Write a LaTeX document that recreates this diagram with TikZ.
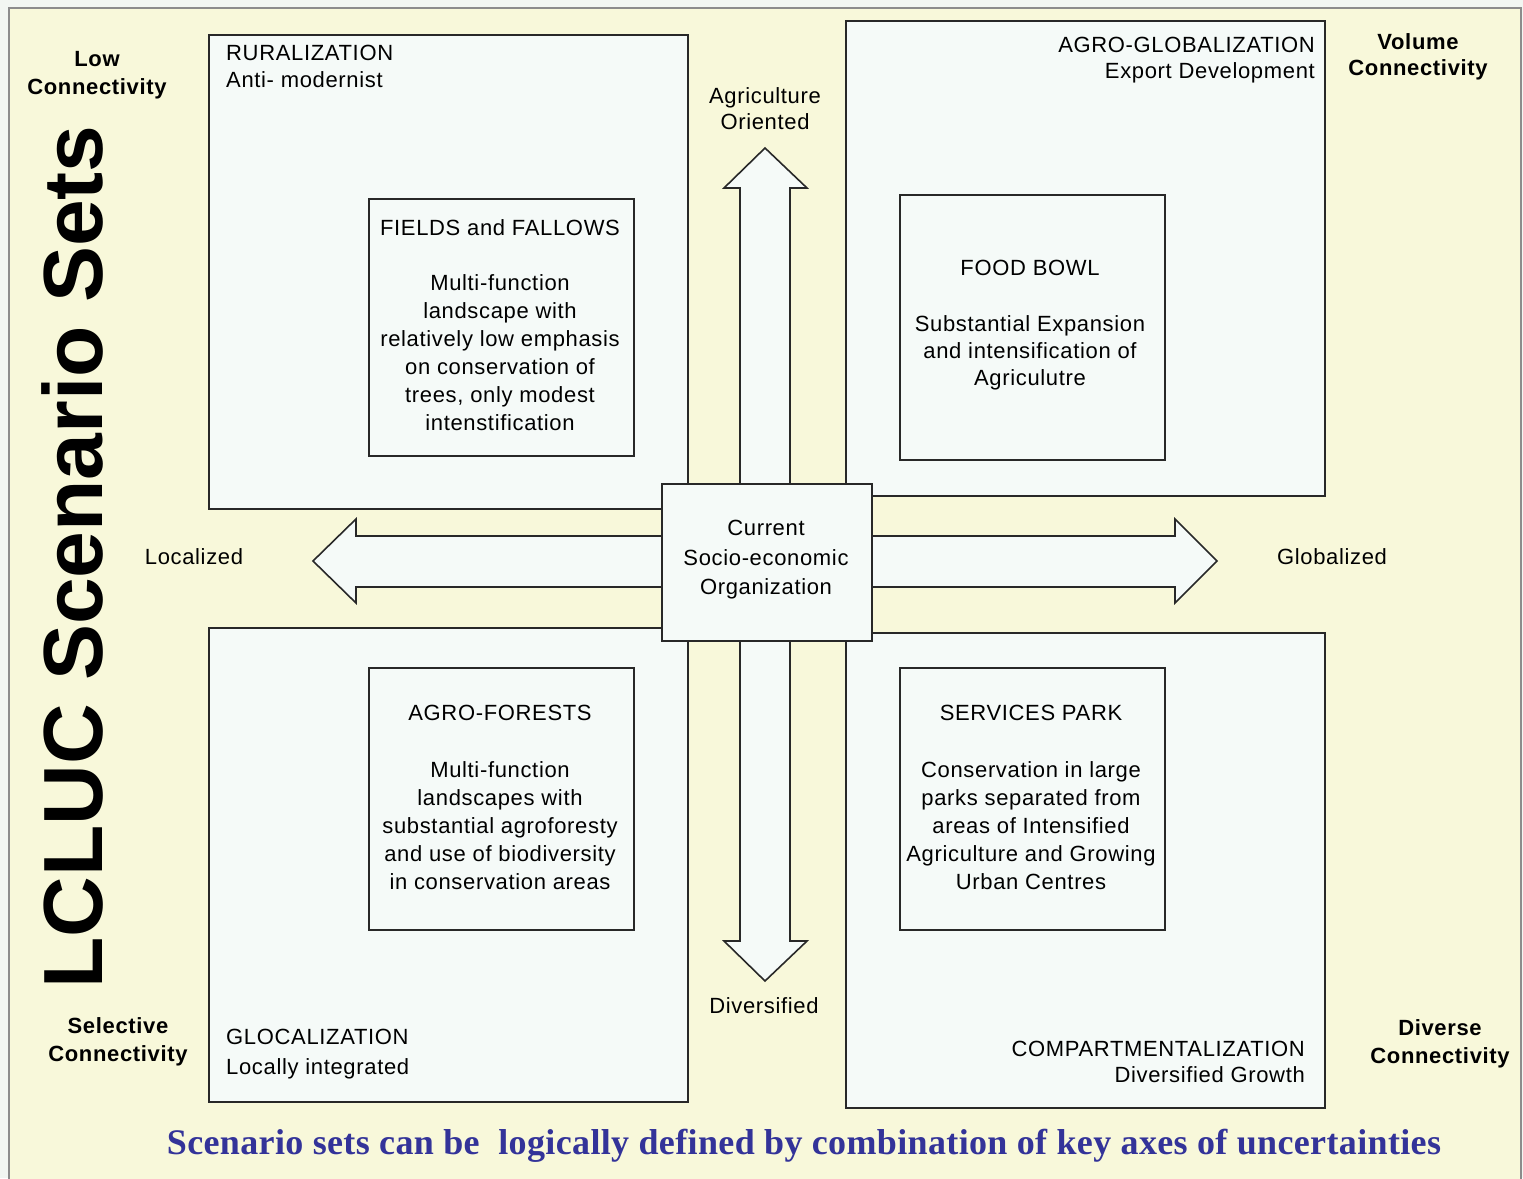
\documentclass[tikz,border=0pt]{standalone}
\usepackage{fontspec}
\setmainfont{Liberation Sans}[LetterSpace=3]
\newfontfamily\capserif{Liberation Serif}[LetterSpace=1]
\newfontfamily\titlefont{Liberation Sans}
\definecolor{outerbg}{RGB}{242,246,242}
\definecolor{bgyellow}{RGB}{248,248,218}
\definecolor{boxfill}{RGB}{245,250,248}
\definecolor{boxline}{RGB}{40,40,40}
\definecolor{framegray}{RGB}{140,140,140}
\definecolor{capblue}{RGB}{51,51,153}
\begin{document}
\begin{tikzpicture}[x=1pt,y=-1pt,
  bigbox/.style={draw=boxline, fill=boxfill, line width=2pt, anchor=north west, inner sep=0pt},
  blockarrow/.style={draw=boxline, fill=boxfill, line width=1.6pt, line join=miter},
  txt/.style={font=\fontsize{22}{28}\selectfont, inner sep=0pt, align=center, text=black},
  txtl/.style={font=\fontsize{22}{27}\selectfont, inner sep=0pt, align=left, text=black},
  txtr/.style={font=\fontsize{22}{26}\selectfont, inner sep=0pt, align=right, text=black},
  boldlbl/.style={font=\bfseries\fontsize{22}{28}\selectfont, inner sep=0pt, align=center, text=black}
]
\useasboundingbox (0,0) rectangle (1523,1178);
\fill[outerbg] (0,0) rectangle (1523,1178);
\path[fill=bgyellow, draw=framegray, line width=2pt] (9,8) rectangle (1521,1195);

% quadrant boxes
\node[bigbox, minimum width=479pt, minimum height=474pt] (rur) at (208,34) {};
\node[bigbox, minimum width=479pt, minimum height=475pt] (agro) at (845,20) {};
\node[bigbox, minimum width=479pt, minimum height=474pt] (gloc) at (208,627) {};
\node[bigbox, minimum width=479pt, minimum height=475pt] (comp) at (845,632) {};

% inner boxes
\node[bigbox, minimum width=265pt, minimum height=257pt] (fields) at (368,198) {};
\node[bigbox, minimum width=265pt, minimum height=265pt] (food) at (899,194) {};
\node[bigbox, minimum width=265pt, minimum height=262pt] (forest) at (368,667) {};
\node[bigbox, minimum width=265pt, minimum height=262pt] (serv) at (899,667) {};

% block arrows
\draw[blockarrow] (765,148) -- (807,188) -- (790,188) -- (790,941) -- (807,941) -- (765,981)
  -- (724,941) -- (740,941) -- (740,188) -- (724,188) -- cycle;
\draw[blockarrow] (313,561) -- (356,519) -- (356,536) -- (1175,536) -- (1175,519) -- (1217,561)
  -- (1175,603) -- (1175,587) -- (356,587) -- (356,603) -- cycle;

% centre box
\node[bigbox, minimum width=210pt, minimum height=157pt] (cur) at (661,483) {};
\node[txt, font=\fontsize{22}{29.5}\selectfont] (curtxt) at (766,560) {Current\\Socio-economic\\Organization};

% quadrant headings
\node[txtl, anchor=north west] (rurt) at (226,45) {RURALIZATION\\Anti- modernist};
\node[txtr, anchor=north east] (agrot) at (1315,37) {AGRO-GLOBALIZATION\\Export Development};
\node[txtl, anchor=north west, font=\fontsize{22}{30}\selectfont] (glot) at (226,1029) {GLOCALIZATION\\Locally integrated};
\node[txtr, anchor=north east] (compt) at (1305,1041) {COMPARTMENTALIZATION\\Diversified Growth};

% inner texts
\node[txt] (fieldst) at (500,325) {FIELDS and FALLOWS\\[27pt]Multi-function\\landscape with\\relatively low emphasis\\on conservation of\\trees, only modest\\intenstification};
\node[txt, font=\fontsize{22}{27}\selectfont] (foodt) at (1030,325) {FOOD BOWL\\[29pt]Substantial Expansion\\and intensification of\\Agriculutre};
\node[txt] (forestt) at (500,797) {AGRO-FORESTS\\[29pt]Multi-function\\landscapes with\\substantial agroforesty\\and use of biodiversity\\in conservation areas};
\node[txt] (servt) at (1031,797) {SERVICES PARK\\[29pt]Conservation in large\\parks separated from\\areas of Intensified\\Agriculture and Growing\\Urban Centres};

% axis labels
\node[txt, font=\fontsize{22}{26}\selectfont] (agor) at (765,109) {Agriculture\\Oriented};
\node[txt] (div) at (764,1006) {Diversified};
\node[txt] (loc) at (194,557) {Localized};
\node[txt] (glob) at (1332,557) {Globalized};

% corner labels
\node[boldlbl] (lowc) at (97,75) {Low\\Connectivity};
\node[boldlbl, font=\bfseries\fontsize{22}{26}\selectfont] (volc) at (1418,57) {Volume\\Connectivity};
\node[boldlbl] (selc) at (118,1042) {Selective\\Connectivity};
\node[boldlbl] (divc) at (1440,1044) {Diverse\\Connectivity};

% big title
\node[inner sep=0pt, rotate=90, font=\titlefont\bfseries\fontsize{84}{90}\selectfont] (title) at (72,557) {LCLUC Scenario Sets};

% caption
\node[inner sep=0pt, text=capblue, font=\capserif\bfseries\fontsize{36}{40}\selectfont] (cap) at (804,1146) {Scenario sets can be\ \ logically defined by combination of key axes of uncertainties};
\end{tikzpicture}
\end{document}
